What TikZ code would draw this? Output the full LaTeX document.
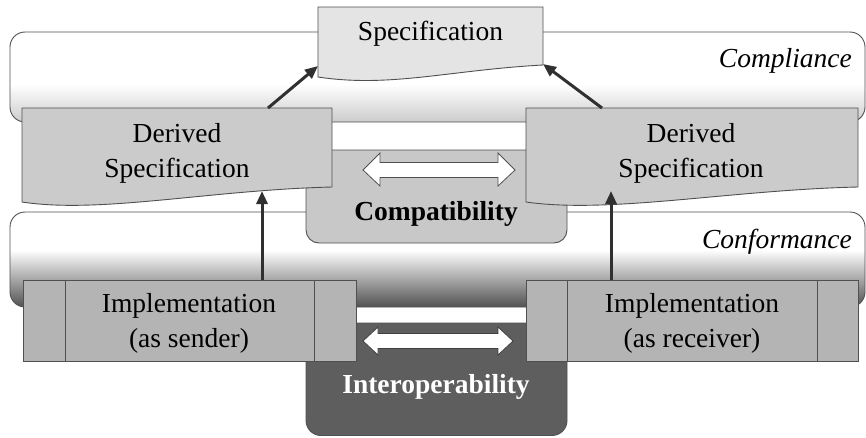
\documentclass[tikz,border=0pt]{standalone}
\usepackage{fontspec}
\setmainfont{Liberation Serif}
\usetikzlibrary{arrows.meta}
\definecolor{edgec}{HTML}{505050}
\definecolor{arrowc}{HTML}{303030}
\definecolor{specfill}{HTML}{E4E4E4}
\definecolor{dspecfill}{HTML}{CBCBCB}
\definecolor{compatfill}{HTML}{C8C8C8}
\definecolor{implfill}{HTML}{B4B4B4}
\definecolor{interfill}{HTML}{5E5E5E}
\pgfdeclareverticalshading{complshade}{100bp}{color(0bp)=(black!20); color(25bp)=(black!20); color(46bp)=(white); color(100bp)=(white)}
\pgfdeclareverticalshading{confshade}{100bp}{color(0bp)=(black!68); color(25bp)=(black!68); color(55bp)=(white); color(100bp)=(white)}
\tikzset{
  box/.style={draw=edgec, line width=0.9pt},
  txt/.style={font=\fontsize{27.5}{35}\selectfont, inner sep=0pt, align=center},
  conn/.style={line width=3pt, draw=arrowc, -{Triangle[length=13pt,width=11pt]}},
  dblarrow/.style={draw=edgec, line width=0.8pt, fill=white},
}
\begin{document}
\begin{tikzpicture}[x=1pt,y=-1pt]
\useasboundingbox (0,0) rectangle (866,437);
% bands
\draw[box, shading=complshade, rounded corners=15] (10,32) rectangle (865,122);
\draw[box, shading=confshade, rounded corners=15] (10,212) rectangle (865,307);
\node[txt, font=\fontsize{27.5}{35}\selectfont\itshape, anchor=base east] (compl) at (852,67) {Compliance};
\node[txt, font=\fontsize{27.5}{35}\selectfont\itshape, anchor=base east] (conf) at (852,248) {Conformance};
% compatibility and interoperability boxes
\draw[box, fill=compatfill, rounded corners=13] (306,150) rectangle (567,243);
\draw[box, fill=interfill, rounded corners=15] (306,323) rectangle (567,435.5);
\node[txt, font=\fontsize{27.5}{35}\selectfont\bfseries, anchor=base] (compat) at (436,220) {Compatibility};
\node[txt, font=\fontsize{27.5}{35}\selectfont\bfseries, text=white, anchor=base] (interop) at (436,393) {Interoperability};
% double arrows
\draw[dblarrow] (363,170) -- (380,153) -- (380,162.5) -- (498,162.5) -- (498,153) -- (515,170)
  -- (498,186) -- (498,177.5) -- (380,177.5) -- (380,186) -- cycle;
\draw[dblarrow, draw=black!75] (363,341) -- (378,327) -- (378,333.5) -- (498,333.5) -- (498,327) -- (513,341)
  -- (498,355) -- (498,348.5) -- (378,348.5) -- (378,355) -- cycle;
% specification
\draw[box, fill=specfill] (318,7) -- (543,7) -- (543,65) .. controls (450,70) and (390,88) .. (318,77) -- cycle;
\node[txt, anchor=base] (spec) at (430.5,40) {Specification};
% derived specifications
\draw[box, fill=dspecfill] (22,108) -- (332,108) -- (332,187) .. controls (210,190) and (100,214) .. (22,202) -- cycle;
\draw[box, fill=dspecfill] (526,108) -- (858,108) -- (858,187) .. controls (730,190) and (610,214) .. (526,202) -- cycle;
\node[txt, anchor=base] (dspecL) at (177,177) {Derived\\Specification};
\node[txt, anchor=base] (dspecR) at (691,177) {Derived\\Specification};
% implementations
\draw[box, fill=implfill] (23,280) rectangle (356,361);
\draw[box] (65,280) -- (65,361) (314,280) -- (314,361);
\draw[box, fill=implfill] (526,280) rectangle (858,361);
\draw[box] (567,280) -- (567,361) (817,280) -- (817,361);
\node[txt, anchor=base] (implL) at (189,347) {Implementation\\(as sender)};
\node[txt, anchor=base] (implR) at (692,347) {Implementation\\(as receiver)};
% connector end points
\coordinate (specBL) at (318,66);
\coordinate (specBR) at (543,64);
\coordinate (dLtop) at (268,108);
\coordinate (dRtop) at (602,108);
\coordinate (dLbot) at (262,191);
\coordinate (dRbot) at (611,191);
\coordinate (iLtop) at (262,280);
\coordinate (iRtop) at (611,280);
\draw[conn] (dLtop) -- (specBL);
\draw[conn] (dRtop) -- (specBR);
\draw[conn] (iLtop) -- (dLbot);
\draw[conn] (iRtop) -- (dRbot);
\end{tikzpicture}
\end{document}
